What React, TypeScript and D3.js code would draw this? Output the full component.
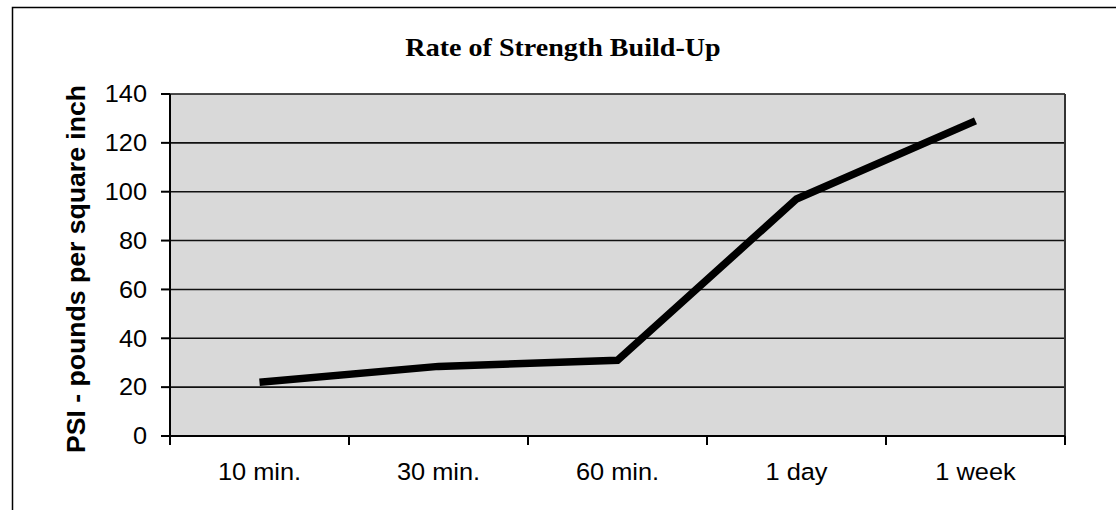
import React from "react";
import * as d3 from "d3";

const categories = ["10 min.", "30 min.", "60 min.", "1 day", "1 week"];
const psiValues = [22, 28.5, 31, 97, 129];
const yTicks = [0, 20, 40, 60, 80, 100, 120, 140];
const titleText = "Rate of Strength Build-Up";
const yLabelText = "PSI - pounds per square inch";

export default function App() {
  const W = 1116;
  const H = 510;
  const left = 170;
  const right = 1065;
  const top = 94;
  const bottom = 436;

  const x = d3.scaleBand<string>().domain(categories).range([left, right]).padding(0);
  const y = d3.scaleLinear().domain([0, 140]).range([bottom, top]);

  const line = d3
    .line<number>()
    .x((_, i) => (x(categories[i]) as number) + x.bandwidth() / 2)
    .y((d) => y(d));

  const tickX = categories.map((c) => x(c) as number).concat([right]);
  const sans = "Arial, 'Liberation Sans', sans-serif";

  return (
    <svg
      width={W}
      height={H}
      style={{ position: "absolute", left: 0, top: 0, background: "#fff" }}
    >
      <rect x={12.5} y={7.5} width={1300} height={700} fill="#fff" stroke="#000" strokeWidth={1.5} />
      <text
        transform={`translate(563,56) scale(1.08,1)`}
        textAnchor="middle"
        fontFamily="'Times New Roman', 'Liberation Serif', serif"
        fontWeight="bold"
        fontSize={26}
        fill="#000"
      >
        {titleText}
      </text>

      <rect x={left} y={top} width={right - left} height={bottom - top} fill="#d9d9d9" />
      {yTicks.map((t) => (
        <line key={"g" + t} x1={left} x2={right} y1={y(t)} y2={y(t)} stroke="#111" strokeWidth={1.6} />
      ))}
      <line x1={right} x2={right} y1={top} y2={bottom} stroke="#333" strokeWidth={2} />
      {/* y axis */}
      <line x1={left} x2={left} y1={top} y2={bottom} stroke="#000" strokeWidth={2} />
      {yTicks.map((t) => (
        <g key={"yt" + t}>
          <line x1={left - 9} x2={left} y1={y(t)} y2={y(t)} stroke="#000" strokeWidth={2} />
          <text
            transform={`translate(147,${y(t)}) scale(1.1,1)`}
            dy="0.36em"
            textAnchor="end"
            fontFamily={sans}
            fontSize={23}
            fill="#000"
          >
            {t}
          </text>
        </g>
      ))}
      {/* x axis */}
      <line x1={left} x2={right} y1={bottom} y2={bottom} stroke="#000" strokeWidth={2} />
      {tickX.map((tx, i) => (
        <line key={"xt" + i} x1={tx} x2={tx} y1={bottom} y2={bottom + 9} stroke="#000" strokeWidth={2} />
      ))}
      {categories.map((c) => (
        <text
          key={c}
          transform={`translate(${(x(c) as number) + x.bandwidth() / 2},480) scale(1.08,1)`}
          textAnchor="middle"
          fontFamily={sans}
          fontSize={23.5}
          fill="#000"
        >
          {c}
        </text>
      ))}
      <text
        transform={`translate(85,269) rotate(-90)`}
        textAnchor="middle"
        fontFamily={sans}
        fontWeight="bold"
        fontSize={26}
        textLength={368}
        lengthAdjust="spacingAndGlyphs"
        fill="#000"
      >
        {yLabelText}
      </text>

      <path d={line(psiValues) || ""} fill="none" stroke="#000" strokeWidth={7.5} strokeLinejoin="miter" strokeLinecap="butt" />
    </svg>
  );
}
